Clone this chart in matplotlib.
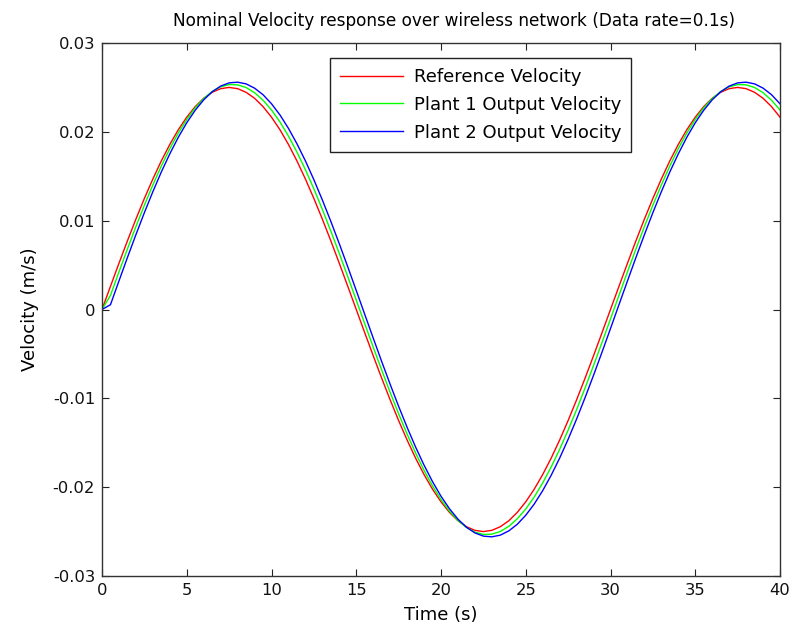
# velocity response plot, reference vs two plants
import matplotlib
matplotlib.use("Agg")
import matplotlib.pyplot as plt

plt.rcParams['font.family'] = ['DejaVu Sans']
plt.rcParams['axes.unicode_minus'] = False

# time samples (s), every 0.5 s
time = [0.5 * k for k in range(81)]

# reference velocity (m/s)
ref_vel = [0.0, 0.00261, 0.00520, 0.00773, 0.01017, 0.01250, 0.01469, 0.01673, 0.01858, 0.02023,
           0.02165, 0.02284, 0.02378, 0.02445, 0.02486, 0.02500, 0.02486, 0.02445, 0.02378, 0.02284,
           0.02165, 0.02023, 0.01858, 0.01673, 0.01469, 0.01250, 0.01017, 0.00773, 0.00520, 0.00261,
           0.0, -0.00261, -0.00520, -0.00773, -0.01017, -0.01250, -0.01469, -0.01673, -0.01858, -0.02023,
           -0.02165, -0.02284, -0.02378, -0.02445, -0.02486, -0.02500, -0.02486, -0.02445, -0.02378, -0.02284,
           -0.02165, -0.02023, -0.01858, -0.01673, -0.01469, -0.01250, -0.01017, -0.00773, -0.00520, -0.00261,
           0.0, 0.00261, 0.00520, 0.00773, 0.01017, 0.01250, 0.01469, 0.01673, 0.01858, 0.02023,
           0.02165, 0.02284, 0.02378, 0.02445, 0.02486, 0.02500, 0.02486, 0.02445, 0.02378, 0.02284,
           0.02165]

plant1_vel = [0.0, 0.00159, 0.00423, 0.00681, 0.00933, 0.01174, 0.01402, 0.01615, 0.01811, 0.01986,
              0.02139, 0.02270, 0.02375, 0.02454, 0.02507, 0.02532, 0.02529, 0.02499, 0.02441, 0.02356,
              0.02246, 0.02111, 0.01952, 0.01773, 0.01574, 0.01358, 0.01127, 0.00883, 0.00630, 0.00370,
              0.00106, -0.00159, -0.00423, -0.00681, -0.00933, -0.01174, -0.01402, -0.01615, -0.01811, -0.01986,
              -0.02139, -0.02270, -0.02375, -0.02454, -0.02507, -0.02532, -0.02529, -0.02499, -0.02441, -0.02356,
              -0.02246, -0.02111, -0.01952, -0.01773, -0.01574, -0.01358, -0.01127, -0.00883, -0.00630, -0.00370,
              -0.00106, 0.00159, 0.00423, 0.00681, 0.00933, 0.01174, 0.01402, 0.01615, 0.01811, 0.01986,
              0.02139, 0.02270, 0.02375, 0.02454, 0.02507, 0.02532, 0.02529, 0.02499, 0.02441, 0.02356,
              0.02246]

plant2_vel = [0.0, 0.00054, 0.00321, 0.00585, 0.00842, 0.01090, 0.01326, 0.01548, 0.01752, 0.01938,
              0.02102, 0.02243, 0.02360, 0.02451, 0.02515, 0.02551, 0.02559, 0.02540, 0.02492, 0.02418,
              0.02316, 0.02190, 0.02039, 0.01866, 0.01673, 0.01461, 0.01233, 0.00992, 0.00740, 0.00480,
              0.00214, -0.00054, -0.00321, -0.00585, -0.00842, -0.01090, -0.01326, -0.01548, -0.01752, -0.01938,
              -0.02102, -0.02243, -0.02360, -0.02451, -0.02515, -0.02551, -0.02559, -0.02540, -0.02492, -0.02418,
              -0.02316, -0.02190, -0.02039, -0.01866, -0.01673, -0.01461, -0.01233, -0.00992, -0.00740, -0.00480,
              -0.00214, 0.00054, 0.00321, 0.00585, 0.00842, 0.01090, 0.01326, 0.01548, 0.01752, 0.01938,
              0.02102, 0.02243, 0.02360, 0.02451, 0.02515, 0.02551, 0.02559, 0.02540, 0.02492, 0.02418,
              0.02316]

labels = ["Reference Velocity", "Plant 1 Output Velocity", "Plant 2 Output Velocity"]
x_ticks = [0, 5, 10, 15, 20, 25, 30, 35, 40]
y_ticks = [-0.03, -0.02, -0.01, 0, 0.01, 0.02, 0.03]
y_tick_labels = ["-0.03", "-0.02", "-0.01", "0", "0.01", "0.02", "0.03"]

fig = plt.figure(figsize=(7.91, 6.35), dpi=100)
ax = fig.add_axes([102 / 791, 59 / 635, 678 / 791, 533 / 635])

ax.plot(time, ref_vel, color="#ff0000", lw=1.0, label=labels[0])
ax.plot(time, plant1_vel, color="#00ff00", lw=1.0, label=labels[1])
ax.plot(time, plant2_vel, color="#0000ff", lw=1.0, label=labels[2])

ax.set_xlim(0, 40)
ax.set_ylim(-0.03, 0.03)
ax.set_xticks(x_ticks)
ax.set_yticks(y_ticks)
ax.set_yticklabels(y_tick_labels)
ax.tick_params(direction="in", length=5, width=0.8, top=True, right=True,
               labelsize=11.8, pad=5, colors="#222222", labelcolor="#111111")
for s in ax.spines.values():
    s.set_linewidth(1.0)
    s.set_color("#333333")

ax.set_xlabel("Time (s)", fontsize=13, labelpad=6)
ax.set_ylabel("Velocity (m/s)", fontsize=13, labelpad=10)
ax.set_title("Nominal Velocity response over wireless network (Data rate=0.1s)",
             fontsize=12.2, pad=12, x=0.519)

leg = ax.legend(loc="upper left", bbox_to_anchor=(0.336, 0.972), borderaxespad=0,
                fontsize=13, handlelength=3.5, handletextpad=0.6, labelspacing=0.55,
                fancybox=False, framealpha=1, edgecolor="#222222", borderpad=0.55)
leg.get_frame().set_linewidth(1.0)

fig.savefig("out.png", dpi=100)
